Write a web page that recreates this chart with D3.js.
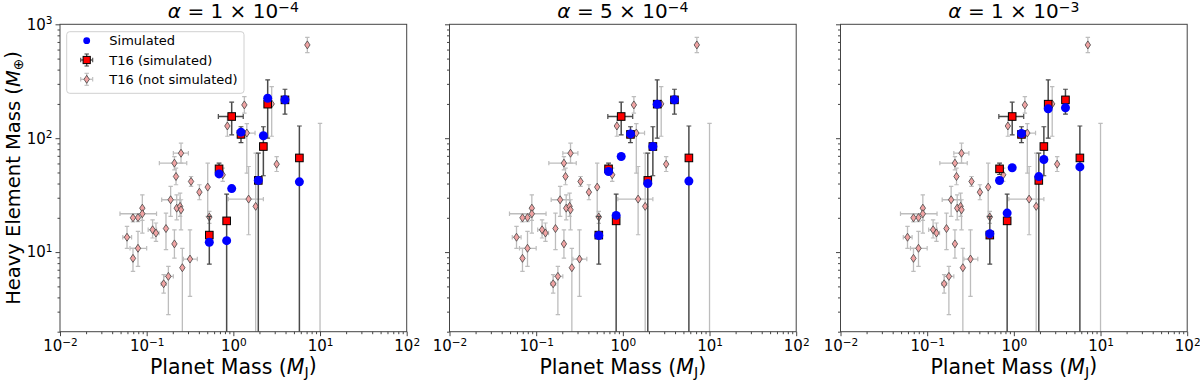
<!DOCTYPE html>
<html>
<head>
<meta charset="utf-8">
<title>Heavy element mass vs planet mass</title>
<style>
body { margin: 0; background: #fff; }
svg text { font-family: "DejaVu Sans", sans-serif; fill: #000; }
.axis path { display: none; }
.axis line { stroke: #444; stroke-width: 1; }
</style>
</head>
<body>
<script src="https://cdn.jsdelivr.net/npm/d3@7"></script>
<script>
// T16 (not simulated): x, y and error bounds (null = no bar)
var nsX   = [7.14, 1.34, 0.853, 1.43, 2.77, 3.16, 0.754, 1.81, 1.50, 0.506, 0.528, 0.406, 0.325, 0.249, 0.209, 0.218, 0.189, 0.222, 0.243, 0.249, 0.167, 0.209, 0.316, 0.258, 0.178, 0.157, 0.117, 0.128, 0.0891, 0.0891, 0.0794, 0.0695, 0.0593, 0.0794, 0.0695, 10];
var nsY   = [659, 196, 128, 111, 200, 59.2, 47.7, 25.2, 29.2, 37.2, 20.3, 33.6, 41.7, 73.8, 60.4, 46.1, 28.8, 24.3, 25.2, 23.5, 16.1, 11.8, 8.69, 7.29, 6.12, 5.27, 15.7, 14.7, 24.3, 21.7, 20.1, 20.0, 13.5, 10.8, 8.81, 1];
var nsXlo = [null, null, null, 1.19, null, null, null, null, 0.875, null, null, null, null, 0.203, 0.14, null, 0.149, null, null, null, null, null, 0.265, null, 0.158, 0.147, 0.104, 0.118, null, 0.0492, null, null, 0.053, 0.0642, null, null];
var nsXhi = [null, null, null, 1.78, null, null, null, null, 2.22, null, null, null, null, 0.303, 0.29, null, 0.243, null, null, null, null, null, 0.384, null, 0.203, 0.168, 0.13, 0.139, null, 0.130, null, null, 0.067, 0.1, null, null];
var nsYlo = [564, 166, 104, 49.3, 104, 51, 41.7, 1, 14.2, 20.6, 17.9, 28.8, 37.7, 60.4, 52.7, 39, 20.6, 19.2, 20.6, 15.7, 10.5, 8.85, 4.08, 1, 2.82, 4.37, 13.3, 12.4, 14.7, 19, 18.5, 18.4, 10.8, 7.48, 6.77, 0.5];
var nsYhi = [769, 232, 155, 134, 284, 69, 54.6, 73.8, 56.4, 60.4, 22.8, 39, 46.1, 90.4, 69, 54.6, 37.7, 31.8, 33, 28.8, 22, 15.7, 15.7, 10.8, 7.48, 6.33, 19.2, 18, 31.8, 24.5, 21.8, 21.7, 16.8, 15.2, 10.8, 135];

// T16 (simulated)
var t16X   = [0.957, 1.225, 2.49, 2.22, 5.78, 0.684, 0.837, 0.528, 1.94, 3.94];
var t16Y   = [155, 108, 199, 84.5, 67.1, 53.8, 18.8, 14.1, 42.6, 217];
var t16Xlo = [0.671, null, null, null, null, null, null, null, null, null];
var t16Xhi = [1.30, null, null, null, null, null, null, null, null, null];
var t16Ylo = [107, 91.6, 100, 46.8, 0.5, 48, 0.5, 7.85, 0.5, 163];
var t16Yhi = [207, 126, 325, 126, 128, 60.4, 32.3, 20.6, 73.8, 269];

// Simulated heavy element mass, same planets as t16X
var sim1e4 = [36.1, 113, 224, 105, 41.4, 48.6, 12.6, 12.2, 42.6, 217];
var sim5e4 = [69, 109, 199, 84.5, 42, 51, 21, 14, 40, 217];
var sim1e3 = [55, 110, 181, 65, 56, 42.5, 22, 14.5, 46, 185];

var alphaMant = ["1", "5", "1"];
var alphaExp  = ["\u22124", "\u22124", "\u22123"];
var xTicks = [1e-2, 1e-1, 1e0, 1e1, 1e2];
var yTicks = [1e1, 1e2, 1e3];

var width = 1200, height = 381;
var panelLeft = [60, 449.5, 840.5];
var pw = 346.7, ph = 307.4, plotTop = 24.3;

var svg = d3.select("body").append("svg")
    .attr("width", width).attr("height", height);

var x = d3.scaleLog().domain([1e-2, 1e2]).range([0, pw]);
var y = d3.scaleLog().domain([2, 1e3]).range([ph, 0]);

function minors(lo, hi) {
    var out = [];
    for (var e = lo; e < hi; e++) {
        for (var m = 2; m <= 9; m++) out.push(m * Math.pow(10, e));
    }
    return out;
}
var xMinor = minors(-2, 2);
var yMinor = minors(0, 3).filter(function(v){ return v >= 2; });

function expText(v) {
    var e = Math.round(Math.log10(v));
    return e < 0 ? "\u2212" + (-e) : "" + e;
}
function powLabel(sel, v) {
    sel.text(null);
    sel.append("tspan").text("10");
    sel.append("tspan").attr("dy", "-0.5em").attr("font-size", "0.7em").text(expText(v));
}

function buildPts(xs, ys, xlo, xhi, ylo, yhi) {
    return xs.map(function(d, i) {
        return {x: d, y: ys[i], xlo: xlo[i], xhi: xhi[i], ylo: ylo[i], yhi: yhi[i]};
    });
}
var nsPts = buildPts(nsX, nsY, nsXlo, nsXhi, nsYlo, nsYhi);
var t16Pts = buildPts(t16X, t16Y, t16Xlo, t16Xhi, t16Ylo, t16Yhi);
var simSets = [sim1e4, sim5e4, sim1e3];

var defs = svg.append("defs");

function errBars(g, pts, color, cap, lw) {
    var vy = pts.filter(function(d){ return d.ylo != null; });
    var vx = pts.filter(function(d){ return d.xlo != null; });
    g.selectAll(null).data(vy).enter().append("line")
        .attr("x1", function(d){ return x(d.x); }).attr("x2", function(d){ return x(d.x); })
        .attr("y1", function(d){ return y(d.ylo); }).attr("y2", function(d){ return y(d.yhi); })
        .attr("stroke", color).attr("stroke-width", lw);
    g.selectAll(null).data(vx).enter().append("line")
        .attr("x1", function(d){ return x(d.xlo); }).attr("x2", function(d){ return x(d.xhi); })
        .attr("y1", function(d){ return y(d.y); }).attr("y2", function(d){ return y(d.y); })
        .attr("stroke", color).attr("stroke-width", lw);
    ["ylo", "yhi"].forEach(function(k) {
        g.selectAll(null).data(vy).enter().append("line")
            .attr("x1", function(d){ return x(d.x) - cap; }).attr("x2", function(d){ return x(d.x) + cap; })
            .attr("y1", function(d){ return y(d[k]); }).attr("y2", function(d){ return y(d[k]); })
            .attr("stroke", color).attr("stroke-width", 1.2);
    });
    ["xlo", "xhi"].forEach(function(k) {
        g.selectAll(null).data(vx).enter().append("line")
            .attr("x1", function(d){ return x(d[k]); }).attr("x2", function(d){ return x(d[k]); })
            .attr("y1", function(d){ return y(d.y) - cap; }).attr("y2", function(d){ return y(d.y) + cap; })
            .attr("stroke", color).attr("stroke-width", 1.2);
    });
}

var diamond = "M0,-4L2.7,0L0,4L-2.7,0Z";
var pinkFill = "#f0a3a3", nsBar = "#bdbdbd", t16Bar = "#4a4a4a";

simSets.forEach(function(simY, k) {
    var g = svg.append("g").attr("transform", "translate(" + panelLeft[k] + "," + plotTop + ")");

    defs.append("clipPath").attr("id", "clip" + k)
        .append("rect").attr("width", pw).attr("height", ph);

    var plot = g.append("g").attr("clip-path", "url(#clip" + k + ")");

    errBars(plot.append("g"), nsPts, nsBar, 2.2, 1.3);
    plot.append("g").selectAll("path").data(nsPts).enter().append("path")
        .attr("d", diamond)
        .attr("transform", function(d){ return "translate(" + x(d.x) + "," + y(d.y) + ")"; })
        .attr("fill", pinkFill).attr("stroke", "#444").attr("stroke-width", 0.8);

    errBars(plot.append("g"), t16Pts, t16Bar, 2.4, 1.5);
    plot.append("g").selectAll("rect").data(t16Pts).enter().append("rect")
        .attr("x", function(d){ return x(d.x) - 3.8; })
        .attr("y", function(d){ return y(d.y) - 3.8; })
        .attr("width", 7.6).attr("height", 7.6)
        .attr("fill", "#ff0000").attr("stroke", "#000").attr("stroke-width", 1);

    plot.append("g").selectAll("circle").data(simY).enter().append("circle")
        .attr("cx", function(d, i){ return x(t16X[i]); })
        .attr("cy", function(d){ return y(d); })
        .attr("r", 4.5).attr("fill", "#0000ff");

    // axes
    g.append("g").attr("class", "axis").attr("transform", "translate(0," + ph + ")")
        .call(d3.axisBottom(x).tickValues(xMinor).tickSize(2.5).tickFormat(""));
    g.append("g").attr("class", "axis").attr("transform", "translate(0," + ph + ")")
        .call(d3.axisBottom(x).tickValues(xTicks).tickSize(4.5).tickPadding(3))
        .call(function(a) {
            a.selectAll(".tick text").attr("font-size", 15).attr("dy", "0.8em")
                .each(function(v){ powLabel(d3.select(this), v); });
        });
    g.append("g").attr("class", "axis")
        .call(d3.axisLeft(y).tickValues(yMinor).tickSize(2.5).tickFormat(""));
    var yAx = g.append("g").attr("class", "axis")
        .call(d3.axisLeft(y).tickValues(yTicks).tickSize(4.5).tickPadding(3));
    if (k === 0) {
        yAx.selectAll(".tick text").attr("font-size", 15)
            .each(function(v){ powLabel(d3.select(this), v); });
    } else {
        yAx.selectAll(".tick text").remove();
    }

    g.append("rect").attr("width", pw).attr("height", ph)
        .attr("fill", "none").attr("stroke", "#444").attr("stroke-width", 1);

    // title
    var t = g.append("text").attr("x", pw / 2).attr("y", -6.5)
        .attr("text-anchor", "middle").attr("font-size", 20);
    t.append("tspan").attr("font-style", "italic").text("\u03b1");
    t.append("tspan").text(" = " + alphaMant[k] + " \u00d7 10");
    t.append("tspan").attr("dy", "-0.45em").attr("font-size", "0.7em").text(alphaExp[k]);

    // x label
    var xl = g.append("text").attr("x", pw / 2).attr("y", ph + 42)
        .attr("text-anchor", "middle").attr("font-size", 20.5);
    xl.append("tspan").text("Planet Mass (");
    xl.append("tspan").attr("font-style", "italic").text("M");
    xl.append("tspan").attr("dy", "0.25em").attr("font-size", "0.7em").text("J");
    xl.append("tspan").attr("dy", "-0.25em").text(")");

    if (k === 0) {
        var yl = svg.append("text")
            .attr("transform", "translate(" + 20 + "," + (plotTop + ph / 2) + ") rotate(-90)")
            .attr("text-anchor", "middle").attr("font-size", 19.5);
        yl.append("tspan").text("Heavy Element Mass (");
        yl.append("tspan").attr("font-style", "italic").text("M");
        yl.append("tspan").attr("dy", "0.25em").attr("font-size", "0.7em").text("\u2295");
        yl.append("tspan").attr("dy", "-0.25em").text(")");

        // legend
        var lg = g.append("g").attr("transform", "translate(6.7,7.4)");
        lg.append("rect").attr("width", 177.3).attr("height", 61.6).attr("rx", 3)
            .attr("fill", "#fff").attr("fill-opacity", 0.8)
            .attr("stroke", "#d0d0d0").attr("stroke-width", 1);
        var mx = 20, rows = [9, 28.3, 47.6];
        lg.append("circle").attr("cx", mx).attr("cy", rows[0]).attr("r", 3.4).attr("fill", "#0000ff");
        [[rows[1], t16Bar, "#ff0000", "rect"], [rows[2], nsBar, pinkFill, "dia"]].forEach(function(r) {
            lg.append("line").attr("x1", mx - 6).attr("x2", mx + 6).attr("y1", r[0]).attr("y2", r[0])
                .attr("stroke", r[1]).attr("stroke-width", 1.3);
            lg.append("line").attr("x1", mx).attr("x2", mx).attr("y1", r[0] - 6).attr("y2", r[0] + 6)
                .attr("stroke", r[1]).attr("stroke-width", 1.3);
            [-6, 6].forEach(function(o) {
                lg.append("line").attr("x1", mx - 2.2).attr("x2", mx + 2.2).attr("y1", r[0] + o).attr("y2", r[0] + o)
                    .attr("stroke", r[1]).attr("stroke-width", 1.1);
                lg.append("line").attr("x1", mx + o).attr("x2", mx + o).attr("y1", r[0] - 2.2).attr("y2", r[0] + 2.2)
                    .attr("stroke", r[1]).attr("stroke-width", 1.1);
            });
            if (r[3] === "rect") {
                lg.append("rect").attr("x", mx - 3.6).attr("y", r[0] - 3.6).attr("width", 7.2).attr("height", 7.2)
                    .attr("fill", r[2]).attr("stroke", "#000");
            } else {
                lg.append("path").attr("d", diamond).attr("transform", "translate(" + mx + "," + r[0] + ")")
                    .attr("fill", r[2]).attr("stroke", "#444").attr("stroke-width", 0.8);
            }
        });
        var labels = ["Simulated", "T16 (simulated)", "T16 (not simulated)"];
        lg.selectAll("text.lab").data(labels).enter().append("text")
            .attr("x", 42.6).attr("y", function(d, i){ return rows[i]; })
            .attr("dy", "0.36em").attr("font-size", 13).text(function(d){ return d; });
    }
});
</script>
</body>
</html>
